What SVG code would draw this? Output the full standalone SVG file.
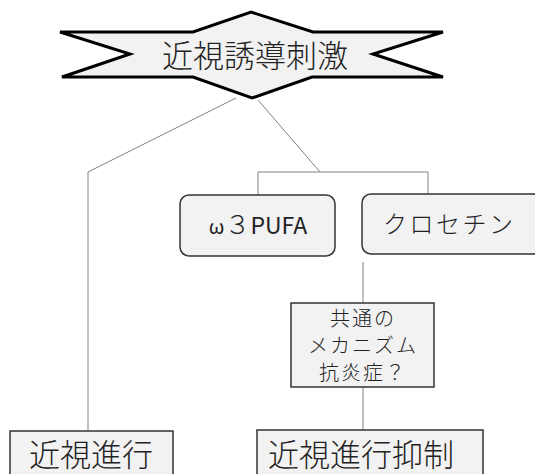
<svg xmlns="http://www.w3.org/2000/svg" width="535" height="474" viewBox="0 0 535 474">
<style>
.jp{font-family:"Noto Sans CJK JP","Noto Sans",sans-serif;font-weight:300;fill:#222}
.box{fill:#f2f2f2;stroke:#333;stroke-width:1.5}
.conn{fill:none;stroke:#808080;stroke-width:1}
</style>
<rect width="535" height="474" fill="#ffffff"/>
<g id="connectors">
<polyline class="conn" points="236,98 88,172 88,431"/>
<polyline class="conn" points="258,100 320,172"/>
<polyline class="conn" points="258,195 258,172 428,172 428,194"/>
<line class="conn" x1="363" y1="262" x2="363" y2="303"/>
<line class="conn" x1="363" y1="387" x2="363" y2="430"/>
</g>
<g id="stimulus">
<polygon points="60,32 193,32 251,12 313,32 443,32 373,54 443,77 312,77 252,98 193,77 62,77 130,54" fill="#f2f2f2" stroke="#000" stroke-width="3" stroke-linejoin="miter"/>
<text class="jp" x="255" y="67" font-size="31" text-anchor="middle">近視誘導刺激</text>
</g>
<g id="pufa">
<rect class="box" x="180" y="195" width="155" height="61" rx="9"/>
<text class="jp" x="258" y="234" text-anchor="middle" style="font-weight:400"><tspan font-size="20">ω</tspan><tspan font-size="26" style="font-weight:300">３</tspan><tspan font-size="23">PUFA</tspan></text>
</g>
<g id="crocetin">
<rect class="box" x="362" y="194" width="190" height="60" rx="9"/>
<text class="jp" x="383" y="233" font-size="24" letter-spacing="2.5">クロセチン</text>
</g>
<g id="mechanism">
<rect class="box" x="291" y="303" width="143" height="84"/>
<text class="jp" x="363" y="326" font-size="20" text-anchor="middle" letter-spacing="2">共通の</text>
<text class="jp" x="363" y="353" font-size="20" text-anchor="middle" letter-spacing="2">メカニズム</text>
<text class="jp" x="363" y="380" font-size="20" text-anchor="middle" letter-spacing="2">抗炎症？</text>
</g>
<g id="progression">
<rect class="box" x="10" y="431" width="163" height="60"/>
<text class="jp" x="91" y="466" font-size="31" text-anchor="middle">近視進行</text>
</g>
<g id="suppression">
<rect class="box" x="257" y="430" width="226" height="60"/>
<text class="jp" x="361" y="466" font-size="31" text-anchor="middle">近視進行抑制</text>
</g>
</svg>
